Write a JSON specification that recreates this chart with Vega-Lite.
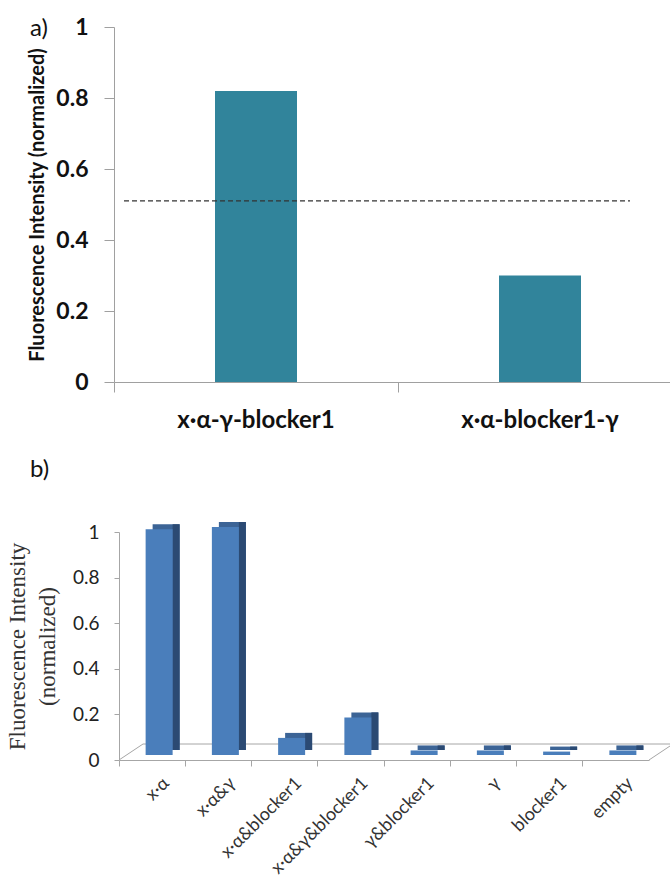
{
  "$schema": "https://vega.github.io/schema/vega-lite/v6.json",
  "background": "white",
  "padding": {"left": 6, "top": 16, "right": 0, "bottom": 0},
  "config": {"view": {"stroke": null}, "axis": {"grid": false}},
  "spacing": 26,
  "datasets": {
    "a": [
      {"construct": "x·α-γ-blocker1", "intensity": 0.82},
      {"construct": "x·α-blocker1-γ", "intensity": 0.30}
    ],
    "threshold": [{"threshold": 0.51, "from": "x·α-γ-blocker1", "to": "x·α-blocker1-γ"}],
    "b": [
      {"condition": "x·α", "intensity": 0.99},
      {"condition": "x·α&γ", "intensity": 1.0},
      {"condition": "x·α&blocker1", "intensity": 0.075},
      {"condition": "x·α&γ&blocker1", "intensity": 0.165},
      {"condition": "γ&blocker1", "intensity": 0.02},
      {"condition": "γ", "intensity": 0.02},
      {"condition": "blocker1", "intensity": 0.015},
      {"condition": "empty", "intensity": 0.02}
    ],
    "floor": [{"from": "x·α", "to": "empty", "base": 0}]
  },
  "vconcat": [
    {
      "width": 568,
      "height": 355,
      "title": {"text": "a)", "anchor": "start", "frame": "group", "orient": "top", "offset": 0, "dx": -84, "dy": 44, "baseline": "alphabetic", "font": "Lato", "fontSize": 24, "fontWeight": "normal", "color": "#111"},
      "layer": [
        {
          "data": {"name": "a"},
          "mark": {"type": "bar", "width": 82, "color": "#31849B"},
          "encoding": {
            "x": {"field": "construct", "type": "nominal", "sort": null,
              "scale": {"domain": ["x·α-γ-blocker1", "x·α-blocker1-γ"], "paddingInner": 0, "paddingOuter": 0},
              "axis": {"title": null, "labelAngle": 0, "bandPosition": 0, "tickSize": 10, "domainColor": "#A0A0A0", "tickColor": "#A0A0A0", "labelFont": "Lato", "labelFontWeight": "bold", "labelFontSize": 24, "labelColor": "#111", "labelPadding": 16}},
            "y": {"field": "intensity", "type": "quantitative",
              "scale": {"domain": [0, 1], "nice": false},
              "axis": {"title": "Fluorescence Intensity (normalized)", "values": [0, 0.2, 0.4, 0.6, 0.8, 1], "format": "~g", "tickSize": 10, "labelPadding": 16, "labelFont": "Lato", "labelFontWeight": "bold", "labelFontSize": 23, "labelColor": "#111", "titleFont": "Lato", "titleFontSize": 20, "titleFontWeight": "bold", "titleColor": "#111", "titlePadding": 8, "domainColor": "#A0A0A0", "tickColor": "#A0A0A0"}}
          }
        },
        {
          "data": {"name": "threshold"},
          "mark": {"type": "rule", "strokeDash": [5, 3], "color": "#333", "strokeWidth": 1.2, "xOffset": 10, "x2Offset": -52},
          "encoding": {
            "x": {"field": "from", "type": "nominal", "bandPosition": 0},
            "x2": {"field": "to", "bandPosition": 1},
            "y": {"field": "threshold", "type": "quantitative"}
          }
        }
      ]
    },
    {
      "width": 535,
      "height": 228,
      "title": {"text": "b)", "anchor": "start", "frame": "group", "orient": "top", "offset": 40, "dx": -84, "font": "Lato", "fontSize": 24, "fontWeight": "normal", "color": "#111"},
      "layer": [
        {
          "data": {"name": "floor"},
          "mark": {"type": "rule", "color": "#A6A6A6", "yOffset": -16, "xOffset": 24, "x2Offset": 24},
          "encoding": {
            "x": {"field": "from", "type": "nominal", "bandPosition": 0,
              "scale": {"domain": ["x·α", "x·α&γ", "x·α&blocker1", "x·α&γ&blocker1", "γ&blocker1", "γ", "blocker1", "empty"], "range": [5, 535], "paddingInner": 0, "paddingOuter": 0},
              "axis": {"title": null, "labelAngle": -45, "bandPosition": 0, "labelOffset": 8, "tickSize": 6, "domainColor": "#A6A6A6", "tickColor": "#A6A6A6", "labelFont": "Lato", "labelFontSize": 18, "labelColor": "#333", "labelPadding": 8}},
            "x2": {"field": "to", "bandPosition": 1},
            "y": {"field": "base", "type": "quantitative",
              "scale": {"domain": [0, 1], "nice": false},
              "axis": {"offset": -5, "title": ["Fluorescence Intensity", "(normalized)"], "values": [0, 0.2, 0.4, 0.6, 0.8, 1], "format": "~g", "tickSize": 5, "labelPadding": 15, "labelFont": "Lato", "labelFontSize": 19, "labelColor": "#222", "titleFont": "Liberation Serif", "titleFontSize": 23, "titleFontWeight": "normal", "titleColor": "#333", "titleLineHeight": 30, "titlePadding": 13, "domainColor": "#A6A6A6", "tickColor": "#A6A6A6"}}
          }
        },
        {
          "data": {"name": "floor"},
          "mark": {"type": "rule", "color": "#A6A6A6", "x2Offset": 24, "y2Offset": -16},
          "encoding": {
            "x": {"field": "from", "type": "nominal", "bandPosition": 0},
            "x2": {"field": "from", "bandPosition": 0},
            "y": {"field": "base", "type": "quantitative"},
            "y2": {"field": "base"}
          }
        },
        {
          "data": {"name": "floor"},
          "mark": {"type": "rule", "color": "#A6A6A6", "x2Offset": 24, "y2Offset": -16},
          "encoding": {
            "x": {"field": "to", "type": "nominal", "bandPosition": 1},
            "x2": {"field": "to", "bandPosition": 1},
            "y": {"field": "base", "type": "quantitative"},
            "y2": {"field": "base"}
          }
        },
        {
          "data": {"name": "b"},
          "mark": {"type": "bar", "width": 27, "color": "#3C6496", "xOffset": 14, "yOffset": -10, "y2Offset": -10},
          "encoding": {
            "x": {"field": "condition", "type": "nominal", "sort": null},
            "y": {"field": "intensity", "type": "quantitative"}
          }
        },
        {
          "data": {"name": "b"},
          "mark": {"type": "bar", "width": 7, "color": "#2B4A73", "xOffset": 24, "yOffset": -10, "y2Offset": -10},
          "encoding": {
            "x": {"field": "condition", "type": "nominal", "sort": null},
            "y": {"field": "intensity", "type": "quantitative"}
          }
        },
        {
          "data": {"name": "b"},
          "mark": {"type": "bar", "width": 27, "color": "#4A7EBB", "xOffset": 7, "yOffset": -5, "y2Offset": -5},
          "encoding": {
            "x": {"field": "condition", "type": "nominal", "sort": null},
            "y": {"field": "intensity", "type": "quantitative"}
          }
        }
      ]
    }
  ]
}
